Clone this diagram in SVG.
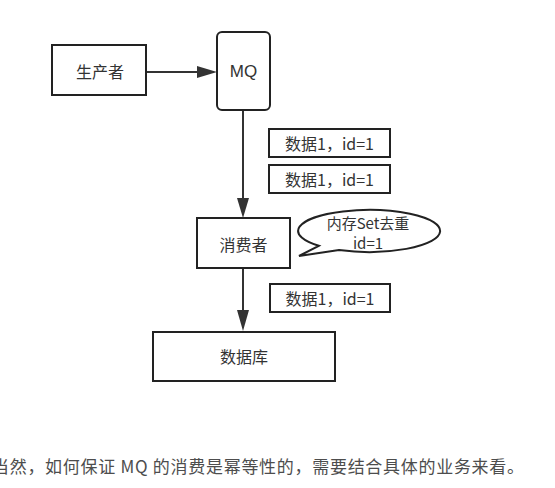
<svg xmlns="http://www.w3.org/2000/svg" width="555" height="488" viewBox="0 0 555 488">
<style>
.box{fill:#fff;stroke:#222;stroke-width:2}
.t{font-family:"Noto Sans CJK SC","Liberation Sans",sans-serif;font-size:16px;fill:#333;text-anchor:middle;dominant-baseline:central}
.ln{stroke:#333;stroke-width:2;fill:none}
.ah{fill:#333}
</style>
<rect width="555" height="488" fill="#fff"/>
<g id="connectors">
<path class="ln" d="M146,72 H200"/>
<path class="ah" d="M197,66 L217,72 L197,78 z"/>
<path class="ln" d="M243,110 V200"/>
<path class="ah" d="M237,198 L243,218 L249,198 z"/>
<path class="ln" d="M243,268 V312"/>
<path class="ah" d="M237,310 L243,331 L249,310 z"/>
</g>
<g id="producer"><rect class="box" x="52" y="45" width="94" height="50"/><text class="t" x="100" y="71">生产者</text></g>
<g id="mq"><rect class="box" x="217" y="32" width="53" height="78" rx="5"/><text class="t" x="243.5" y="71" style="font-family:'Liberation Sans',sans-serif;font-size:17px">MQ</text></g>
<g id="data1"><rect class="box" x="269" y="129" width="121" height="28"/><text class="t" x="329.5" y="143">数据1，id=1</text></g>
<g id="data2"><rect class="box" x="269" y="165" width="121" height="28"/><text class="t" x="329.5" y="179">数据1，id=1</text></g>
<g id="consumer"><rect class="box" x="197" y="218" width="93" height="50"/><text class="t" x="243.5" y="244">消费者</text></g>
<g id="bubble"><path class="box" d="M318.8,245.8 L299,256 L339,250 A71,21 0 1 0 318.8,245.8 Z"/><text class="t" x="368" y="222" style="font-size:15px">内存Set去重</text><text class="t" x="368" y="242" style="font-size:15px">id=1</text></g>
<g id="data3"><rect class="box" x="270" y="284" width="120" height="28"/><text class="t" x="330" y="298">数据1，id=1</text></g>
<g id="db"><rect class="box" x="153" y="332" width="182" height="49"/><text class="t" x="244" y="356">数据库</text></g>
<text x="-8" y="465" textLength="532" lengthAdjust="spacing" style="font-family:'Noto Sans CJK SC','Liberation Sans',sans-serif;font-size:17px;fill:#4d4d4d;dominant-baseline:central">当然，如何保证 MQ 的消费是幂等性的，需要结合具体的业务来看。</text>
</svg>
